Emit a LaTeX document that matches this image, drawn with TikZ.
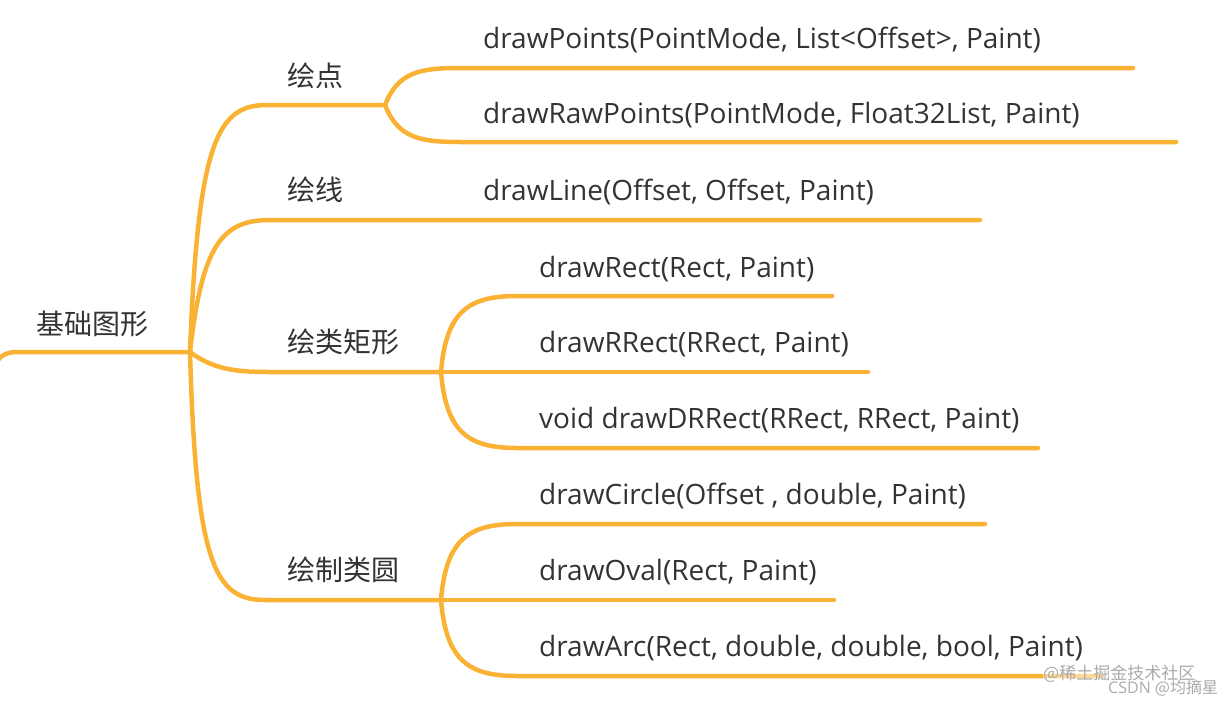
\documentclass[tikz,border=0pt]{standalone}
\usepackage{fontspec}
\setmainfont{Open Sans}
\newfontfamily\cjk{Noto Sans CJK SC}
\definecolor{branch}{RGB}{249,178,51}
\definecolor{txt}{RGB}{51,51,51}
\definecolor{wm}{RGB}{170,170,170}
\begin{document}
\begin{tikzpicture}[x=1pt,y=-1pt,
  br/.style={draw=branch,line width=4.5pt,line cap=round},
  lbl/.style={anchor=base west,inner sep=0pt,text=txt,font=\fontsize{28}{32}\selectfont},
  zh/.style={anchor=base west,inner sep=0pt,text=txt,font=\cjk\fontsize{28}{32}\selectfont},
  wmk/.style={inner sep=0pt,text=wm,font=\cjk\fontsize{17}{20}\selectfont}]
\useasboundingbox (0,0) rectangle (1224,704);
% coordinates
\coordinate (rs) at (-10,378);
\coordinate (r1) at (18,352);
\coordinate (root) at (190,352);
\coordinate (p0) at (267,105); \coordinate (p) at (385,105);
\coordinate (p1a) at (460,68);  \coordinate (p1b) at (1133,68);
\coordinate (p2a) at (460,142); \coordinate (p2b) at (1176,142);
\coordinate (l0) at (270,220); \coordinate (l1) at (980,220);
\coordinate (r0) at (270,372); \coordinate (rr) at (441,372);
\coordinate (ra) at (517,296); \coordinate (rae) at (832,296);
\coordinate (rbe) at (868,372);
\coordinate (rc) at (517,448); \coordinate (rce) at (1038,448);
\coordinate (c0) at (265,600); \coordinate (cc) at (441,600);
\coordinate (ca) at (517,524); \coordinate (cae) at (985,524);
\coordinate (cbe) at (834,600);
\coordinate (cx) at (517,676); \coordinate (cxe) at (1102,676);
% branches
\draw[br] (rs) .. controls (-4,356) and (4,352) .. (r1) -- (root);
\draw[br] (root) .. controls (198,140) and (218,105) .. (p0) -- (p);
\draw[br] (p) .. controls (398,72) and (420,68) .. (p1a) -- (p1b);
\draw[br] (p) .. controls (398,138) and (420,142) .. (p2a) -- (p2b);
\draw[br] (root) .. controls (202,245) and (222,220) .. (l0) -- (l1);
\draw[br] (root) .. controls (214,370) and (238,372) .. (r0) -- (rr);
\draw[br] (rr) .. controls (446,312) and (468,296) .. (ra) -- (rae);
\draw[br] (rr) -- (rbe);
\draw[br] (rr) .. controls (446,432) and (468,448) .. (rc) -- (rce);
\draw[br] (root) .. controls (196,565) and (215,600) .. (c0) -- (cc);
\draw[br] (cc) .. controls (446,540) and (468,524) .. (ca) -- (cae);
\draw[br] (cc) -- (cbe);
\draw[br] (cc) .. controls (446,660) and (468,676) .. (cx) -- (cxe);
% labels
\node[zh] (t0) at (36,334) {基础图形};
\node[zh] (t1) at (287,86) {绘点};
\node[lbl] (t11) at (483,48) {drawPoints(PointMode, List<Offset>, Paint)};
\node[lbl] (t12) at (483,123) {drawRawPoints(PointMode, Float32List, Paint)};
\node[zh] (t2) at (287,200) {绘线};
\node[lbl] (t21) at (483,200) {drawLine(Offset, Offset, Paint)};
\node[zh] (t3) at (287,352) {绘类矩形};
\node[lbl] (t31) at (539,277) {drawRect(Rect, Paint)};
\node[lbl] (t32) at (539,352) {drawRRect(RRect, Paint)};
\node[lbl] (t33) at (539,428) {void drawDRRect(RRect, RRect, Paint)};
\node[zh] (t4) at (287,580) {绘制类圆};
\node[lbl] (t41) at (539,504) {drawCircle(Offset , double, Paint)};
\node[lbl] (t42) at (539,580) {drawOval(Rect, Paint)};
\node[lbl] (t43) at (539,656) {drawArc(Rect, double, double, bool, Paint)};
% watermark
\node[wmk,anchor=west,fill=white,fill opacity=0.5,text opacity=1] (w1) at (1043,674) {@稀土掘金技术社区};
\node[wmk,anchor=west,font=\fontsize{16}{18}\selectfont] (w2) at (1108,688) {CSDN {\cjk @均摘星}};
\end{tikzpicture}
\end{document}
